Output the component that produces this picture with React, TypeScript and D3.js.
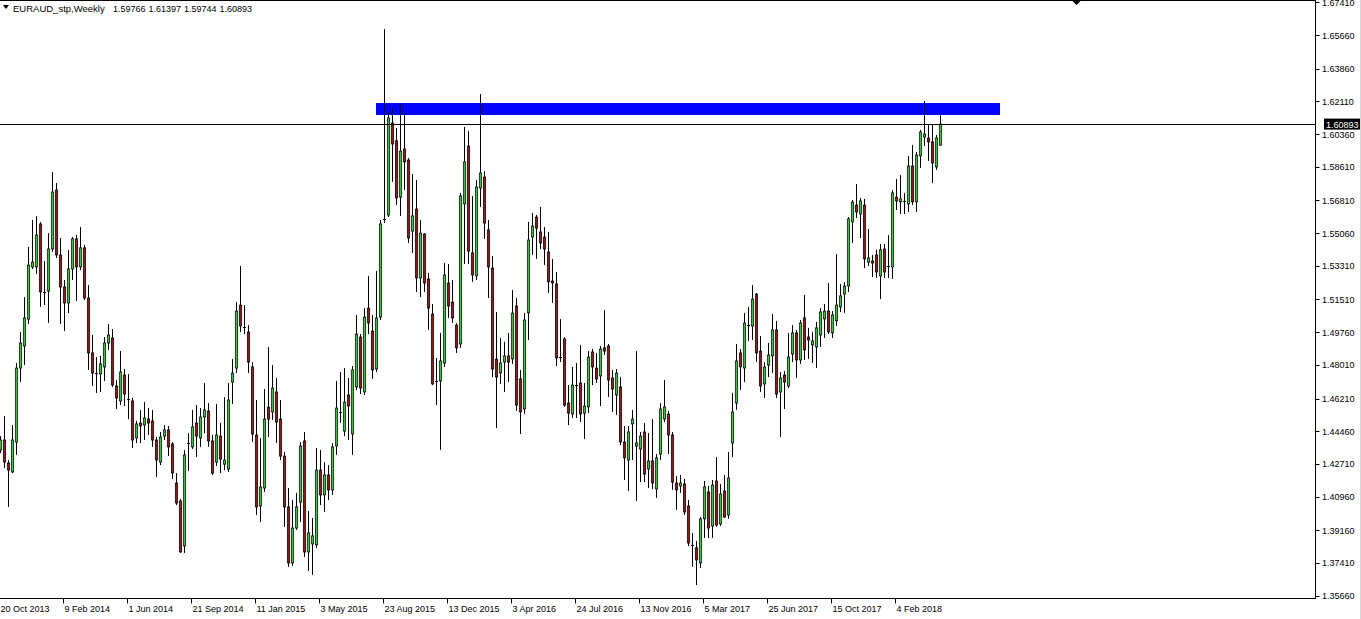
import React from "react";
import * as d3 from "d3";

// Weekly EURAUD candles, 20 Oct 2013 .. 22 Apr 2018
const opens = [
  1.4346, 1.4399, 1.4276, 1.4228, 1.4388, 1.4784, 1.4902, 1.5046, 1.5325, 1.5325,
  1.5555, 1.5191, 1.5196, 1.5421, 1.5737, 1.5389, 1.5218, 1.5132, 1.5314, 1.5475,
  1.5325, 1.5427, 1.5159, 1.4865, 1.4757, 1.4752, 1.4790, 1.4918, 1.4945, 1.4688,
  1.4608, 1.4747, 1.4618, 1.4608, 1.4410, 1.4490, 1.4479, 1.4511, 1.4501, 1.4399,
  1.4281, 1.4420, 1.4453, 1.4378, 1.4169, 1.4073, 1.3832, 1.4383, 1.4362, 1.4490,
  1.4410, 1.4522, 1.4554, 1.4394, 1.4281, 1.4420, 1.4270, 1.4244, 1.4709, 1.4784,
  1.5121, 1.5004, 1.4977, 1.4790, 1.4426, 1.4046, 1.4142, 1.4575, 1.4549, 1.4656,
  1.4511, 1.4313, 1.4041, 1.3741, 1.3928, 1.4067, 1.4394, 1.3800, 1.3843, 1.3838,
  1.4238, 1.4105, 1.4212, 1.4132, 1.4367, 1.4549, 1.4447, 1.4640, 1.4431, 1.4683,
  1.4950, 1.4656, 1.5105, 1.4982, 1.4779, 1.5057, 1.5582, 1.5603, 1.6095, 1.6000,
  1.5699, 1.5956, 1.5897, 1.5517, 1.5635, 1.5266, 1.5501, 1.5261, 1.5073, 1.4715,
  1.4715, 1.4811, 1.5239, 1.5137, 1.5014, 1.4913, 1.5662, 1.5972, 1.5400, 1.5277,
  1.5747, 1.5806, 1.5523, 1.5319, 1.4832, 1.4758, 1.4816, 1.4849, 1.4833, 1.5116,
  1.4726, 1.4565, 1.5079, 1.5485, 1.5592, 1.5512, 1.5485, 1.5405, 1.5250, 1.5234,
  1.4843, 1.4940, 1.4597, 1.4538, 1.4693, 1.4704, 1.4543, 1.4576, 1.4870, 1.4784,
  1.4742, 1.4892, 1.4902, 1.4731, 1.4640, 1.4683, 1.4388, 1.4292, 1.4485, 1.4367,
  1.4351, 1.4442, 1.4244, 1.4287, 1.4137, 1.4324, 1.4511, 1.4538, 1.4426, 1.4169,
  1.4153, 1.4164, 1.4046, 1.3838, 1.3822, 1.3741, 1.3977, 1.4121, 1.3939, 1.4180,
  1.3950, 1.4126, 1.3998, 1.4383, 1.4597, 1.4865, 1.4784, 1.5014, 1.5009, 1.5180,
  1.4875, 1.4699, 1.4800, 1.4849, 1.4988, 1.4656, 1.4747, 1.4688, 1.4859, 1.4972,
  1.4827, 1.5052, 1.4950, 1.4908, 1.4897, 1.4961, 1.5047, 1.5089, 1.4972, 1.5036,
  1.5111, 1.5180, 1.5223, 1.5566, 1.5656, 1.5608, 1.5656, 1.5351, 1.5357, 1.5389,
  1.5277, 1.5421, 1.5330, 1.5325, 1.5699, 1.5673, 1.5678, 1.5662, 1.5865, 1.5673,
  1.5919, 1.6020, 1.6015, 1.5994, 1.5860, 1.59766,
];

const highs = [
  1.4420, 1.4527, 1.4292, 1.4479, 1.4811, 1.4977, 1.5164, 1.5432, 1.5576, 1.5597,
  1.5565, 1.5357, 1.5506, 1.5833, 1.5774, 1.5480, 1.5255, 1.5416, 1.5485, 1.5496,
  1.5539, 1.5443, 1.5228, 1.4961, 1.4843, 1.4849, 1.4950, 1.5020, 1.4993, 1.4720,
  1.4875, 1.4779, 1.4752, 1.4624, 1.4501, 1.4560, 1.4602, 1.4570, 1.4560, 1.4415,
  1.4442, 1.4479, 1.4474, 1.4388, 1.4222, 1.4083, 1.4346, 1.4436, 1.4560, 1.4586,
  1.4570, 1.4704, 1.4597, 1.4426, 1.4592, 1.4490, 1.4629, 1.4704, 1.4832, 1.5137,
  1.5330, 1.5121, 1.5014, 1.4816, 1.4613, 1.4410, 1.4672, 1.4897, 1.4800, 1.4731,
  1.4613, 1.4335, 1.4142, 1.4078, 1.4116, 1.4388, 1.4442, 1.4019, 1.3982, 1.4356,
  1.4346, 1.4281, 1.4265, 1.4383, 1.4715, 1.4763, 1.4784, 1.4731, 1.4795, 1.5068,
  1.4966, 1.5105, 1.5277, 1.5068, 1.5303, 1.5576, 1.6598, 1.6154, 1.6175, 1.6068,
  1.6197, 1.6149, 1.5908, 1.5822, 1.5790, 1.5576, 1.5506, 1.5293, 1.5127, 1.4838,
  1.4972, 1.5346, 1.5341, 1.5255, 1.5025, 1.5721, 1.6074, 1.6052, 1.5705, 1.5790,
  1.6250, 1.5838, 1.5576, 1.5384, 1.5084, 1.4945, 1.4924, 1.4972, 1.5202, 1.5159,
  1.4774, 1.5079, 1.5566, 1.5614, 1.5603, 1.5646, 1.5539, 1.5512, 1.5368, 1.5298,
  1.5046, 1.4950, 1.4693, 1.4790, 1.4811, 1.4908, 1.4704, 1.4875, 1.4886, 1.4865,
  1.4902, 1.5095, 1.4913, 1.4774, 1.4779, 1.4736, 1.4474, 1.4474, 1.4560, 1.4875,
  1.4442, 1.4490, 1.4436, 1.4511, 1.4324, 1.4597, 1.4720, 1.4554, 1.4442, 1.4207,
  1.4212, 1.4191, 1.4078, 1.3902, 1.3859, 1.3987, 1.4180, 1.4153, 1.4185, 1.4308,
  1.4164, 1.4212, 1.4335, 1.4651, 1.4913, 1.4886, 1.5079, 1.5111, 1.5228, 1.5186,
  1.4956, 1.4816, 1.4918, 1.5073, 1.5036, 1.4763, 1.4768, 1.4972, 1.5014, 1.4988,
  1.5041, 1.5175, 1.4999, 1.4977, 1.5031, 1.5105, 1.5127, 1.5239, 1.5089, 1.5394,
  1.5234, 1.5244, 1.5592, 1.5683, 1.5769, 1.5694, 1.5689, 1.5528, 1.5389, 1.5416,
  1.5448, 1.5448, 1.5496, 1.5737, 1.5796, 1.5817, 1.5721, 1.5919, 1.5978, 1.5940,
  1.6058, 1.6213, 1.6090, 1.6085, 1.6031, 1.61397,
];

const lows = [
  1.4329, 1.4249, 1.4041, 1.4222, 1.4319, 1.4709, 1.4800, 1.5020, 1.5314, 1.5287,
  1.5111, 1.5121, 1.5025, 1.5405, 1.5373, 1.5020, 1.4982, 1.5078, 1.5255, 1.5143,
  1.5309, 1.5148, 1.4774, 1.4688, 1.4651, 1.4656, 1.4715, 1.4881, 1.4683, 1.4565,
  1.4586, 1.4581, 1.4511, 1.4356, 1.4383, 1.4383, 1.4399, 1.4426, 1.4362, 1.4201,
  1.4265, 1.4399, 1.4313, 1.4190, 1.4051, 1.3795, 1.3795, 1.4233, 1.4351, 1.4308,
  1.4362, 1.4436, 1.4362, 1.4212, 1.4260, 1.4222, 1.4238, 1.4228, 1.4592, 1.4757,
  1.4977, 1.4966, 1.4757, 1.4388, 1.3998, 1.3960, 1.4121, 1.4415, 1.4506, 1.4383,
  1.4292, 1.3934, 1.3720, 1.3725, 1.3918, 1.3960, 1.3773, 1.3698, 1.3677, 1.3821,
  1.4051, 1.4014, 1.4078, 1.4105, 1.4319, 1.4490, 1.4420, 1.4399, 1.4319, 1.4666,
  1.4645, 1.4640, 1.4966, 1.4726, 1.4763, 1.5041, 1.5560, 1.5592, 1.5780, 1.5657,
  1.5598, 1.5737, 1.5453, 1.5400, 1.5191, 1.5164, 1.5191, 1.4988, 1.4693, 1.4586,
  1.4346, 1.4790, 1.5052, 1.5025, 1.4865, 1.4892, 1.5341, 1.5341, 1.5245, 1.5255,
  1.5646, 1.5475, 1.5159, 1.4736, 1.4463, 1.4699, 1.4656, 1.4709, 1.4806, 1.4554,
  1.4431, 1.4538, 1.4934, 1.5389, 1.5368, 1.5421, 1.5336, 1.5186, 1.5132, 1.4795,
  1.4816, 1.4576, 1.4479, 1.4517, 1.4517, 1.4495, 1.4404, 1.4543, 1.4693, 1.4704,
  1.4581, 1.4854, 1.4629, 1.4549, 1.4533, 1.4372, 1.4185, 1.4126, 1.4292, 1.4073,
  1.4174, 1.4174, 1.4142, 1.4137, 1.4089, 1.4292, 1.4495, 1.4324, 1.4132, 1.4025,
  1.4116, 1.3998, 1.3832, 1.3720, 1.3623, 1.3714, 1.3875, 1.3875, 1.3875, 1.3934,
  1.3939, 1.3982, 1.3977, 1.4308, 1.4560, 1.4667, 1.4709, 1.4929, 1.4934, 1.4816,
  1.4656, 1.4624, 1.4736, 1.4758, 1.4624, 1.4415, 1.4565, 1.4677, 1.4816, 1.4731,
  1.4806, 1.4827, 1.4833, 1.4811, 1.4784, 1.4897, 1.4945, 1.4966, 1.4945, 1.5009,
  1.5084, 1.5079, 1.5191, 1.5453, 1.5587, 1.5480, 1.5319, 1.5330, 1.5271, 1.5266,
  1.5153, 1.5266, 1.5266, 1.5261, 1.5630, 1.5608, 1.5608, 1.5619, 1.5657, 1.5619,
  1.5855, 1.5972, 1.5892, 1.5774, 1.5844, 1.59744,
];

const closes = [
  1.4399, 1.4281, 1.4238, 1.4399, 1.4784, 1.4918, 1.5052, 1.5335, 1.5351, 1.5496,
  1.5191, 1.5186, 1.5421, 1.5726, 1.5389, 1.5218, 1.5132, 1.5314, 1.5475, 1.5325,
  1.5427, 1.5159, 1.4865, 1.4757, 1.4752, 1.4806, 1.4918, 1.4961, 1.4693, 1.4624,
  1.4763, 1.4645, 1.4613, 1.4399, 1.4485, 1.4474, 1.4517, 1.4490, 1.4399, 1.4292,
  1.4415, 1.4453, 1.4362, 1.4222, 1.4062, 1.3800, 1.4319, 1.4378, 1.4469, 1.4420,
  1.4522, 1.4560, 1.4394, 1.4222, 1.4426, 1.4297, 1.4292, 1.4613, 1.4757, 1.5089,
  1.5009, 1.4998, 1.4816, 1.4431, 1.4041, 1.4148, 1.4511, 1.4511, 1.4677, 1.4495,
  1.4313, 1.4041, 1.3741, 1.3928, 1.4041, 1.4367, 1.3800, 1.3902, 1.3886, 1.4238,
  1.4105, 1.4212, 1.4132, 1.4362, 1.4570, 1.4543, 1.4602, 1.4581, 1.4774, 1.4966,
  1.4677, 1.5057, 1.5025, 1.4774, 1.5052, 1.5555, 1.5576, 1.6122, 1.5983, 1.5694,
  1.5945, 1.5887, 1.5480, 1.5598, 1.5266, 1.5506, 1.5239, 1.5105, 1.4699, 1.4709,
  1.4822, 1.5282, 1.5116, 1.5052, 1.4892, 1.5705, 1.5887, 1.5410, 1.5282, 1.5753,
  1.5828, 1.5560, 1.5325, 1.4779, 1.4736, 1.4811, 1.4849, 1.4816, 1.5078, 1.4586,
  1.4549, 1.5041, 1.5469, 1.5544, 1.5533, 1.5453, 1.5421, 1.5245, 1.5239, 1.4838,
  1.4838, 1.4586, 1.4543, 1.4693, 1.4688, 1.4538, 1.4581, 1.4843, 1.4790, 1.4726,
  1.4886, 1.4875, 1.4720, 1.4672, 1.4757, 1.4388, 1.4303, 1.4442, 1.4511, 1.4383,
  1.4420, 1.4217, 1.4287, 1.4169, 1.4303, 1.4565, 1.4576, 1.4426, 1.4174, 1.4132,
  1.4169, 1.4014, 1.3848, 1.3832, 1.3757, 1.3977, 1.4148, 1.3928, 1.4158, 1.3944,
  1.4110, 1.3987, 1.4196, 1.4549, 1.4822, 1.4790, 1.5025, 1.5009, 1.5153, 1.4865,
  1.4688, 1.4790, 1.4854, 1.4988, 1.4645, 1.4731, 1.4709, 1.4843, 1.4972, 1.4827,
  1.5025, 1.4881, 1.4934, 1.4929, 1.4999, 1.5084, 1.5089, 1.4977, 1.5068, 1.5121,
  1.5170, 1.5223, 1.5582, 1.5672, 1.5619, 1.5678, 1.5368, 1.5373, 1.5346, 1.5298,
  1.5416, 1.5298, 1.5325, 1.5721, 1.5678, 1.5689, 1.5673, 1.5865, 1.5673, 1.5924,
  1.6047, 1.6036, 1.5994, 1.5881, 1.6015, 1.60893,
];

const dateLabels = [
  "20 Oct 2013", "9 Feb 2014", "1 Jun 2014", "21 Sep 2014", "11 Jan 2015",
  "3 May 2015", "23 Aug 2015", "13 Dec 2015", "3 Apr 2016", "24 Jul 2016",
  "13 Nov 2016", "5 Mar 2017", "25 Jun 2017", "15 Oct 2017", "4 Feb 2018",
];
const barsPerDateLabel = 16;

const priceTicks = [
  1.6741, 1.6566, 1.6386, 1.6211, 1.6036, 1.5861, 1.5681, 1.5506, 1.5331, 1.5151,
  1.4976, 1.4801, 1.4621, 1.4446, 1.4271, 1.4096, 1.3916, 1.3741, 1.3566,
];

const symbolTitle = "EURAUD_stp,Weekly";
const lastBarValues = ["1.59766", "1.61397", "1.59744", "1.60893"];
const lastPrice = 1.60893;

const zoneTop = 1.6202;
const zoneBottom = 1.6138;
const zoneStartBar = 94;
const zoneEndBar = 250;
const shiftMarkerBar = 269;

const BULL = "#3cc23c";
const BEAR = "#8c1c1c";
const FONT = "'Liberation Sans', Arial, sans-serif";

export default function App() {
  const W = 1361;
  const H = 619;
  const axisX = 1315.5;
  const axisY = 598.5;

  const n = opens.length;
  const x = d3.scaleLinear().domain([0, n - 1]).range([0.5, 940.5]);
  const y = d3.scaleLinear().domain([1.3566, 1.6566]).range([595.7, 35]);

  const candles = d3.range(n).map((i) => {
    const o = opens[i];
    const c = closes[i];
    const cx = x(i);
    const top = y(Math.max(o, c));
    const bot = y(Math.min(o, c));
    const doji = bot - top < 1.2;
    return (
      <g key={i}>
        <line x1={cx} x2={cx} y1={y(highs[i])} y2={y(lows[i])} stroke="#000" strokeWidth={1} />
        {doji ? (
          <line x1={cx - 1.5} x2={cx + 1.5} y1={(top + bot) / 2} y2={(top + bot) / 2} stroke="#000" strokeWidth={1} />
        ) : (
          <rect
            x={cx - 1.2}
            y={top}
            width={2.4}
            height={bot - top}
            fill={c >= o ? BULL : BEAR}
            stroke="#000"
            strokeWidth={0.7}
          />
        )}
      </g>
    );
  });

  const lastY = y(lastPrice);

  return (
    <div style={{ position: "fixed", left: 0, top: 0, width: W, height: H, background: "#fff" }}>
      <svg width={W} height={H} style={{ display: "block" }} fontFamily={FONT}>
        <rect x={0} y={0} width={W} height={H} fill="#fff" />
        <defs>
          <clipPath id="plot">
            <rect x={0} y={1} width={1315} height={597} />
          </clipPath>
        </defs>
        <g clipPath="url(#plot)">
          <rect
            x={x(zoneStartBar) - 0.5}
            y={y(zoneTop)}
            width={x(zoneEndBar) - x(zoneStartBar)}
            height={y(zoneBottom) - y(zoneTop)}
            fill="#0000ff"
          />
          {candles}
          <line x1={0} x2={axisX} y1={Math.round(lastY) + 0.5} y2={Math.round(lastY) + 0.5} stroke="#000" strokeWidth={1} />
        </g>

        {/* frame */}
        <line x1={0} x2={axisX} y1={0.5} y2={0.5} stroke="#000" />
        <line x1={axisX} x2={axisX} y1={0} y2={axisY} stroke="#000" />
        <line x1={0} x2={axisX + 0.5} y1={axisY} y2={axisY} stroke="#000" />
        <line x1={1360.5} x2={1360.5} y1={0} y2={H} stroke="#d8d8d8" />

        {/* chart shift marker */}
        <path
          d={`M${x(shiftMarkerBar) - 5},0 L${x(shiftMarkerBar) + 5},0 L${x(shiftMarkerBar)},5 Z`}
          fill="#000"
        />

        {/* price axis */}
        {priceTicks.map((p) => {
          const ty = y(p);
          return (
            <g key={p}>
              <line x1={axisX} x2={axisX + 4} y1={Math.round(ty) + 0.5} y2={Math.round(ty) + 0.5} stroke="#000" />
              <text x={1322} y={ty + 3.5} fontSize={9} fill="#000">
                {p.toFixed(5)}
              </text>
            </g>
          );
        })}
        <rect x={1324} y={lastY - 5.5} width={36} height={11} fill="#000" />
        <text x={1326} y={lastY + 3.5} fontSize={9} fill="#fff">
          {lastPrice.toFixed(5)}
        </text>

        {/* time axis */}
        {dateLabels.map((label, j) => {
          const tx = x(j * barsPerDateLabel) - 1;
          return (
            <g key={label}>
              <line x1={tx} x2={tx} y1={axisY} y2={axisY + 5} stroke="#000" />
              <text x={tx + 1} y={611.5} fontSize={9} fill="#000">
                {label}
              </text>
            </g>
          );
        })}

        {/* title */}
        <path d="M3,5 L9,5 L6,9 Z" fill="#000" />
        <text x={13} y={11.5} fontSize={9.5} fill="#000">
          {symbolTitle}
        </text>
        {lastBarValues.map((v, i) => (
          <text key={i} x={113 + i * 35.5} y={11.5} fontSize={9} fill="#000">
            {v}
          </text>
        ))}
      </svg>
    </div>
  );
}
